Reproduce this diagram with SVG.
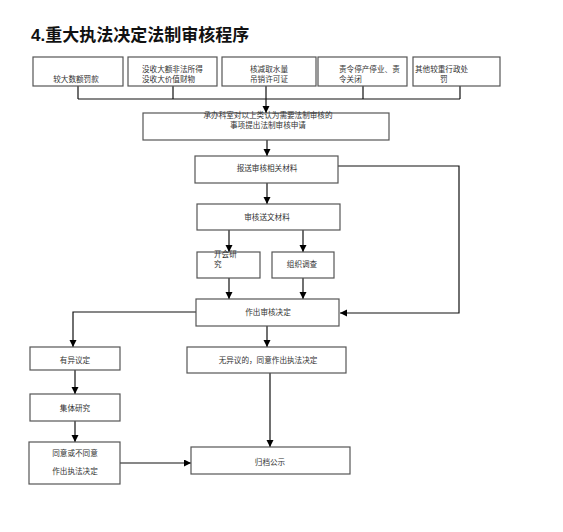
<svg xmlns="http://www.w3.org/2000/svg" width="563" height="532" viewBox="0 0 563 532">
<defs>
<marker id="ah" markerUnits="userSpaceOnUse" markerWidth="8" markerHeight="8" refX="7" refY="3.5" orient="auto">
<path d="M0,0 L7,3.5 L0,7 z" fill="#000"/>
</marker>
<style>
.box{fill:#fff;stroke:#555;stroke-width:1.2}
.t{font-family:"Noto Sans CJK SC","Liberation Sans",sans-serif;font-size:7.6px;fill:#333}
.c{text-anchor:middle}
.ln{fill:none;stroke:#111;stroke-width:1.2}
.ar{fill:none;stroke:#111;stroke-width:1.2;marker-end:url(#ah)}
.title{font-family:"Liberation Sans","Noto Sans CJK SC",sans-serif;font-size:17px;font-weight:bold;fill:#111}
</style>
</defs>
<rect width="563" height="532" fill="#fff"/>
<text class="title" x="31" y="41">4.重大执法决定法制审核程序</text>

<g id="connectors">
<path class="ln" d="M78,86 V99 M173,86 V99 M363,86 V99 M460,86 V99 M78,99 H460"/>
<path class="ar" d="M266,86 V113"/>
<path class="ar" d="M267,140 V156"/>
<path class="ar" d="M267,183 V204"/>
<path class="ar" d="M229,230 V252"/>
<path class="ar" d="M303,230 V252"/>
<path class="ar" d="M229,278 V299"/>
<path class="ar" d="M303,278 V299"/>
<path class="ar" d="M338,166 H459 V313 H340"/>
<path class="ar" d="M196,312 H73 V347"/>
<path class="ar" d="M267,326 V347"/>
<path class="ar" d="M75,370 V394"/>
<path class="ar" d="M75,421 V442"/>
<path class="ar" d="M120,463 H191"/>
<path class="ar" d="M270,373 V447"/>
</g>

<g id="n1"><rect class="box" x="33" y="57" width="90" height="29"/><text class="t c" x="76" y="82">较大数额罚款</text></g>
<g id="n2"><rect class="box" x="128" y="57" width="89" height="29"/><text class="t" x="142" y="71.5">没收大额非法所得</text><text class="t" x="142" y="81.5">没收大价值财物</text></g>
<g id="n3"><rect class="box" x="222" y="57" width="94" height="29"/><text class="t c" x="269" y="71.5">核减取水量</text><text class="t c" x="269" y="81.5">吊销许可证</text></g>
<g id="n4"><rect class="box" x="318" y="57" width="89" height="29"/><text class="t" x="339" y="71.5">责令停产停业、责</text><text class="t" x="339" y="81.5">令关闭</text></g>
<g id="n5"><rect class="box" x="413" y="57" width="87" height="29"/><text class="t" x="415" y="71.5">其他较重行政处</text><text class="t" x="440" y="81.5">罚</text></g>

<g id="n6"><rect class="box" x="143" y="113" width="246" height="27"/><text class="t c" x="268" y="118">承办科室对以上类认为需要法制审核的</text><text class="t c" x="268" y="128">事项提出法制审核申请</text></g>
<g id="n7"><rect class="box" x="195" y="156" width="143" height="27"/><text class="t c" x="267" y="171">报送审核相关材料</text></g>
<g id="n8"><rect class="box" x="197" y="204" width="143" height="26"/><text class="t c" x="267" y="220">审核送文材料</text></g>
<g id="n9"><rect class="box" x="197" y="252" width="63" height="26"/><text class="t" x="214" y="257">开会研</text><text class="t" x="214" y="267">究</text></g>
<g id="n10"><rect class="box" x="272" y="252" width="62" height="26"/><text class="t c" x="302" y="267">组织调查</text></g>
<g id="n11"><rect class="box" x="196" y="299" width="143" height="27"/><text class="t c" x="268" y="315">作出审核决定</text></g>
<g id="n12"><rect class="box" x="30" y="347" width="90" height="23"/><text class="t c" x="75" y="363">有异议定</text></g>
<g id="n13"><rect class="box" x="187" y="347" width="159" height="26"/><text class="t c" x="268" y="363">无异议的，同意作出执法决定</text></g>
<g id="n14"><rect class="box" x="30" y="394" width="90" height="27"/><text class="t c" x="75" y="411">集体研究</text></g>
<g id="n15"><rect class="box" x="29" y="442" width="91" height="42"/><text class="t c" x="75" y="456">同意或不同意</text><text class="t c" x="75" y="474">作出执法决定</text></g>
<g id="n16"><rect class="box" x="191" y="447" width="159" height="27"/><text class="t c" x="270" y="465">归档公示</text></g>
</svg>
